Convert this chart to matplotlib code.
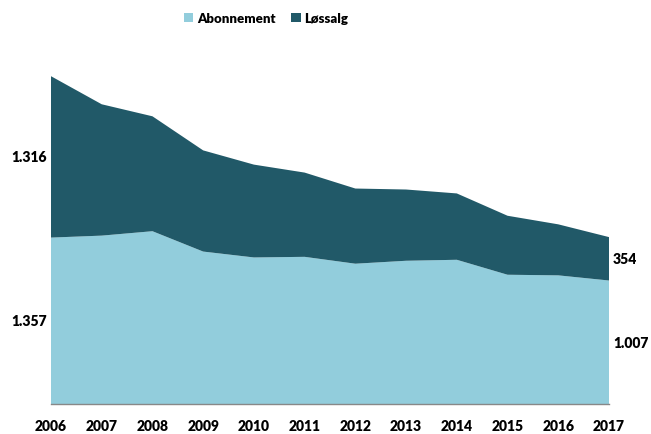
import matplotlib
matplotlib.use("Agg")
import matplotlib.pyplot as plt
from matplotlib.patches import Patch

years = [2006, 2007, 2008, 2009, 2010, 2011, 2012, 2013, 2014, 2015, 2016, 2017]
abonnement = [1357, 1373, 1409, 1243, 1195, 1200, 1144, 1168, 1176, 1054, 1049, 1007]
lossalg = [1316, 1071, 937, 825, 757, 687, 613, 581, 541, 481, 416, 354]
series_names = ["Abonnement", "Løssalg"]
colors = ["#92CDDC", "#215968"]

def fmt(v):
    return f"{v:,}".replace(",", ".")

W = 'heavy'
plt.rcParams['font.family'] = ['Lato', 'DejaVu Sans']
plt.rcParams['font.weight'] = W

fig = plt.figure(figsize=(6.51, 4.35), dpi=100)
ax = fig.add_axes([51/651, 30/435, (609-51)/651, (405-42)/435])

ax.stackplot(years, abonnement, lossalg, colors=colors, linewidth=0)
ax.set_xlim(years[0], years[-1])
ax.set_ylim(0, 2960)

for s in ["top", "right", "left"]:
    ax.spines[s].set_visible(False)
ax.spines["bottom"].set_color("#888888")
ax.spines["bottom"].set_linewidth(1)
ax.set_yticks([])
ax.set_xticks(years)
ax.set_xticklabels([str(y) for y in years], fontsize=10, fontweight=W)
ax.tick_params(axis='x', length=0, pad=11)

# data labels
ax.annotate(fmt(abonnement[0]), xy=(years[0], abonnement[0] / 2), xytext=(-3, 0),
            textcoords='offset points', ha='right', va='center', fontsize=10, fontweight=W)
ax.annotate(fmt(lossalg[0]), xy=(years[0], abonnement[0] + lossalg[0] / 2), xytext=(-3, 0),
            textcoords='offset points', ha='right', va='center', fontsize=10, fontweight=W)
ax.annotate(fmt(abonnement[-1]), xy=(years[-1], abonnement[-1] / 2), xytext=(3, 0),
            textcoords='offset points', ha='left', va='center', fontsize=10, fontweight=W)
ax.annotate(fmt(lossalg[-1]), xy=(years[-1], abonnement[-1] + lossalg[-1] / 2), xytext=(3, 0),
            textcoords='offset points', ha='left', va='center', fontsize=10, fontweight=W)

handles = [Patch(facecolor=c, edgecolor='none') for c in colors]
fig.legend(handles, series_names, loc='center', bbox_to_anchor=(266/651, 1 - 19/435),
           ncol=2, frameon=False, handlelength=0.75, handleheight=0.75,
           handletextpad=0.25, columnspacing=1.2, prop={'weight': W, 'size': 9.5})

fig.savefig("out.png", dpi=100)
